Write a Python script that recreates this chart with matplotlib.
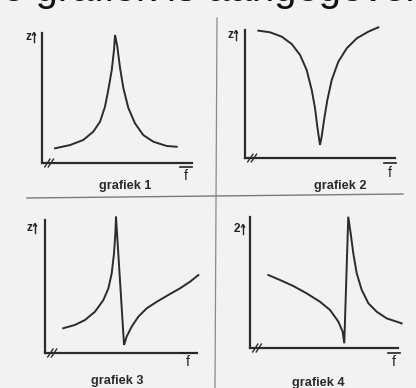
import matplotlib
matplotlib.use("Agg")
import matplotlib.pyplot as plt
from matplotlib.lines import Line2D

W, H = 416, 388

# Impedance Z against frequency f for four circuits (arbitrary units 0-10)
f1 = [0.87, 1.87, 2.75, 3.42, 3.87, 4.20, 4.42, 4.65, 4.80, 4.87,
      5.02, 5.20, 5.42, 5.75, 6.20, 6.75, 7.42, 8.31, 8.98]
z1 = [1.13, 1.38, 1.77, 2.41, 3.18, 4.33, 5.62, 7.15, 8.69, 9.85,
      8.95, 7.33, 5.79, 4.25, 3.05, 2.15, 1.64, 1.31, 1.25]

f2 = [0.89, 1.67, 2.45, 3.11, 3.67, 4.11, 4.45, 4.67, 4.82, 4.95,
      5.00, 5.11, 5.27, 5.49, 5.78, 6.22, 6.78, 7.45, 8.22, 8.89]
z2 = [9.95, 9.82, 9.48, 8.91, 8.05, 6.88, 5.31, 3.88, 2.45, 1.41,
      1.02, 1.66, 2.97, 4.53, 6.09, 7.52, 8.57, 9.35, 9.87, 10.21]

f3 = [1.20, 1.97, 2.63, 3.29, 3.84, 4.17, 4.39, 4.54, 4.63, 4.67,
      5.20, 5.37, 5.70, 6.14, 6.69, 7.35, 8.11, 8.88, 9.54, 10.09]
z3 = [1.86, 2.11, 2.48, 3.11, 3.98, 4.86, 5.99, 7.49, 8.99, 10.25,
      0.60, 1.23, 1.98, 2.73, 3.36, 3.85, 4.36, 4.86, 5.36, 5.86]

f4 = [1.24, 2.03, 2.93, 3.83, 4.73, 5.41, 5.97, 6.26, 6.37,
      6.64, 6.80, 6.98, 7.21, 7.55, 8.00, 8.56, 9.24, 10.25]
z4 = [5.57, 5.19, 4.73, 4.17, 3.53, 2.90, 2.01, 1.25, 0.36,
      10.02, 8.76, 7.23, 5.70, 4.43, 3.41, 2.77, 2.26, 1.88]

titles = ["grafiek 1", "grafiek 2", "grafiek 3", "grafiek 4"]
y_names = ["z", "z", "z", "2"]
x_name = "f"

series = [(f1, z1), (f2, z2), (f3, z3), (f4, z4)]

# panel geometry in pixels: left, top, right, bottom of the axes lines
boxes = [(42, 33, 192, 163), (245, 30, 395, 158),
         (45, 220, 197, 353), (250, 217, 398, 348)]
title_pos = [(125, 186), (340, 186), (117, 381), (318, 383)]
ylab_pos = [(31, 37), (233, 35), (32, 228), (240, 229)]
xlab_pos = [(186, 167), (390, 163), (188, 353), (394, 353)]

INK = "#2b2b2b"
BG = "#f1f2f1"


def fx(x):
    return x / W


def fy(y):
    return 1 - y / H


fig = plt.figure(figsize=(W / 100, H / 100), dpi=100, facecolor=BG)

# heading line running off the top edge
fig.text(fx(-20), fy(1.0), "de grafiek is aangegeven", fontsize=28.8,
         family="Liberation Sans", color="#111111", va="baseline", ha="left")

# panel separators
fig.add_artist(Line2D([fx(217), fx(215)], [fy(18), fy(388)],
                      color="#8a8a8a", lw=0.9))
fig.add_artist(Line2D([fx(27), fx(403)], [fy(198), fy(194)],
                      color="#7a7a7a", lw=1.0))

for i, ((fv, zv), (l, t, r, b)) in enumerate(zip(series, boxes)):
    ax = fig.add_axes([fx(l), fy(b), (r - l) / W, (b - t) / H])
    ax.set_facecolor("none")
    ax.set_xlim(0, 10)
    ax.set_ylim(0, 10)
    for side in ("top", "right"):
        ax.spines[side].set_visible(False)
    for side in ("left", "bottom"):
        ax.spines[side].set_color(INK)
        ax.spines[side].set_linewidth(1.6)
    ax.set_xticks([])
    ax.set_yticks([])
    ax.plot(fv, zv, color=INK, lw=1.4, clip_on=False,
            solid_joinstyle="miter")

    # axis break marks at the origin
    for dx in (0.18, 0.42):
        ax.plot([dx, dx + 0.35], [-0.3, 0.3], color=INK, lw=1.0,
                clip_on=False)

    tx, ty = title_pos[i]
    fig.text(fx(tx), fy(ty), titles[i], fontsize=9.2, fontweight="bold",
             family="Liberation Sans", color="#2a2a2a",
             ha="center", va="center")

    yx, yy = ylab_pos[i]
    fig.text(fx(yx), fy(yy), y_names[i], fontsize=8.5, fontweight="bold",
             family="Liberation Sans", color="#222222",
             ha="right", va="center")
    fig.add_artist(Line2D([fx(yx + 3), fx(yx + 3)], [fy(yy + 5), fy(yy - 4)],
                          color="#222222", lw=1.0))
    fig.add_artist(Line2D([fx(yx + 1.5), fx(yx + 3), fx(yx + 4.5)],
                          [fy(yy - 2), fy(yy - 4.5), fy(yy - 2)],
                          color="#222222", lw=1.0))

    # f label with its bar just above it
    xx, xy = xlab_pos[i]
    fig.add_artist(Line2D([fx(xx - 6), fx(xx + 6)], [fy(xy), fy(xy)],
                          color="#222222", lw=1.2))
    fig.text(fx(xx), fy(xy + 2.5), x_name, fontsize=10,
             family="Liberation Sans", color="#222222",
             ha="center", va="top")

fig.savefig("out.png", dpi=100, facecolor=BG)
